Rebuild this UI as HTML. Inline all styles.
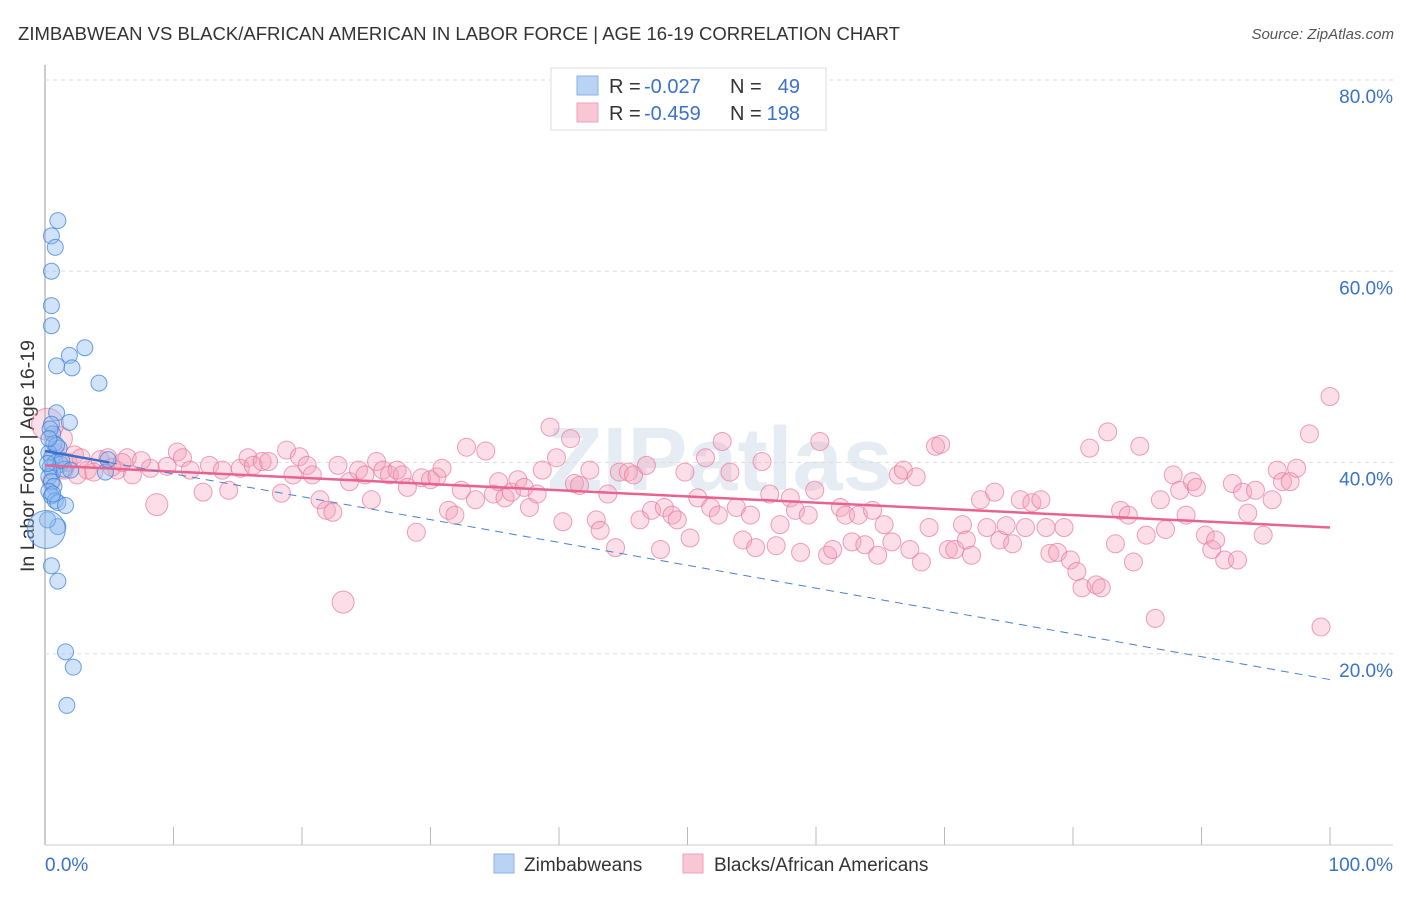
<!DOCTYPE html>
<html><head><meta charset="utf-8"><style>
body{margin:0;background:#fff;font-family:"Liberation Sans",sans-serif}
svg text{font-family:"Liberation Sans",sans-serif}
</style></head><body>
<svg id="c" width="1406" height="892">
<text x="18" y="40" font-size="18" fill="#333" textLength="882" lengthAdjust="spacingAndGlyphs">ZIMBABWEAN VS BLACK/AFRICAN AMERICAN IN LABOR FORCE | AGE 16-19 CORRELATION CHART</text>
<text x="1394" y="39" font-size="15" fill="#555" text-anchor="end" font-style="italic">Source: ZipAtlas.com</text>
<text x="720" y="490" font-size="90" fill="#e6ecf3" text-anchor="middle" font-weight="bold">ZIPatlas</text>
<text transform="translate(34,456) rotate(-90)" font-size="19" fill="#333" text-anchor="middle" textLength="232" lengthAdjust="spacingAndGlyphs">In Labor Force | Age 16-19</text>
<g id="grid"></g><g id="pts"></g><g id="lines"></g>
<g>
<rect x="551" y="68" width="275" height="62" fill="#fff" stroke="#ddd"/>
<rect x="577" y="76" width="21" height="19" fill="#b9d3f5" stroke="#8ab2e8"/>
<rect x="577" y="103" width="21" height="19" fill="#f8c6d4" stroke="#eda2b8"/>
<text x="609" y="93" font-size="20" fill="#333">R =</text>
<text x="644" y="93" font-size="20" fill="#3a72c8">-0.027</text>
<text x="730" y="93" font-size="20" fill="#333">N =</text>
<text x="800" y="93" font-size="20" fill="#3a72c8" text-anchor="end">49</text>
<text x="609" y="120" font-size="20" fill="#333">R =</text>
<text x="644" y="120" font-size="20" fill="#3a72c8">-0.459</text>
<text x="730" y="120" font-size="20" fill="#333">N =</text>
<text x="800" y="120" font-size="20" fill="#3a72c8" text-anchor="end">198</text>
</g>
<g>
<rect x="494" y="854" width="20" height="19" fill="#b9d3f5" stroke="#8ab2e8"/>
<text x="524" y="871" font-size="19" fill="#333">Zimbabweans</text>
<rect x="683" y="854" width="20" height="19" fill="#f8c6d4" stroke="#eda2b8"/>
<text x="714" y="871" font-size="19" fill="#333">Blacks/African Americans</text>
</g>
</svg>
<script>
const yTicks=[20,40,60,80];
const xTickLabels=["0.0%","100.0%"];
const blueX=[1,0.5,0.8,0.5,0.5,0.5,1.9,0.9,2.1,3.1,4.2,1.9,0.9,0.5,0.6,0.7,1.1,0.3,0.5,0.8,1.2,0.4,0.6,1.5,0.3,0.5,0.7,0.3,0.5,0.8,1,1.6,1,0.5,1,1.6,2.2,1.7,4.7,4.9,0.2,1.3,0.4,0.9,0.2,0.6,2,0.3,0.1];
const blueY=[65.3,63.7,62.5,60,56.4,54.3,51.2,50.1,49.9,52,48.3,44.2,45.2,44,43,42,41.5,41,40.5,40,39.8,39.5,39,39.3,38.5,38,37.5,37,36.5,36,35.8,35.5,33.3,29.2,27.6,20.2,18.6,14.6,39,40.3,34,40.2,43.5,41.8,39.9,36.7,39.2,42.5,33];
const pinkX=[1.2,2.3,3.3,4.3,4.9,5.6,6.4,6.8,8.2,8.7,10.3,10.7,11.3,12.3,12.8,14.3,13.8,15.2,15.8,16.2,16.9,17.4,18.8,18.4,19.3,19.8,20.4,20.8,21.4,21.9,22.4,23.2,22.8,23.7,24.4,24.9,25.4,25.8,26.3,26.8,27.4,27.8,28.2,28.9,29.3,30,30.5,30.9,31.4,31.9,32.4,32.8,33.5,34.3,34.9,35.3,35.8,36.3,36.8,37.3,37.7,38.3,38.7,39.3,39.8,40.3,40.9,41.2,41.6,42.4,42.9,43.2,43.8,44.4,44.7,45.4,45.8,46.3,46.8,47.2,47.9,48.2,48.8,49.2,49.8,50.2,50.8,51.4,51.8,52.4,52.7,53.3,53.8,54.3,54.9,55.3,55.8,56.4,56.9,57.2,58,58.4,58.8,59.4,59.9,60.3,60.9,61.3,61.9,62.3,62.8,63.3,63.8,64.4,64.8,65.3,65.9,66.4,66.8,67.3,67.8,68.2,68.8,69.3,69.7,70.3,70.8,71.4,71.7,72.1,72.8,73.3,73.9,74.3,74.8,75.3,75.9,76.3,76.8,77.5,77.9,78.2,78.8,79.3,79.8,80.3,80.7,81.3,81.8,82.2,82.7,83.3,83.7,84.3,84.7,85.2,85.7,86.4,86.8,87.2,87.8,88.3,88.8,89.3,89.6,90.3,90.8,91.1,91.8,92.4,92.8,93.2,93.6,94.2,94.8,95.5,95.9,96.3,96.9,97.4,98.4,99.3,100,0.2,0.8,1.8,2.8,3.8,5.2,6,7.5,9.5,0.5,1.5,2.5];
const pinkY=[42.5,40.8,39.2,40.3,40.5,39.2,40.5,38.7,39.4,35.6,41.1,40.5,39.2,36.9,39.7,37.1,39.2,39.4,40.5,39.7,40.1,40.1,41.3,36.8,38.7,40.6,39.7,38.7,36.1,35,34.8,25.4,39.7,38,39.2,38.7,36.1,40.1,39.2,38.7,39.2,38.7,37.4,32.7,38.4,38.2,38.5,39.4,35,34.5,37.1,41.6,36.1,41.2,36.7,38,36.3,36.9,38.2,37.4,35.3,36.7,39.2,43.7,40.5,33.8,42.5,37.8,37.6,39.2,34,32.9,36.7,31.1,39,39,38.7,34,39.7,35,30.9,35.3,34.5,34,39,32.1,36.3,40.5,35.3,34.5,42.2,39,35.3,31.9,34.5,31.1,40.1,36.7,31.3,33.5,36.3,35,30.6,34.5,37.1,42.2,30.3,30.9,35.3,34.5,31.7,34.5,31.4,35,30.3,33.5,31.7,38.7,39.2,30.9,38.5,29.6,33.2,41.7,41.9,30.9,30.9,33.5,31.9,30.3,36.1,33.2,36.9,31.9,33.4,31.5,36.1,33.2,35.8,36.1,33.2,30.5,30.6,33.2,29.8,28.6,26.9,41.5,27.2,26.9,43.2,31.5,35,34.5,29.6,41.7,32.4,23.7,36.1,33,38.7,37.1,34.5,38,37.4,32.4,30.9,31.9,29.8,37.8,29.8,36.9,34.7,37.1,32.4,36.1,39.2,38,38,39.4,43,22.8,46.9,44,41,40,40.5,39,39.5,40,40.2,39.6,38,39.2,38.7];
const L=45,R=1330,B=845,T=80;
const pinkBig={0:12,9:11,31:11};
pinkBig[pinkX.length-12]=16;
const blueBig={48:19};
const xs=v=>L+(R-L)*v/100, ys=v=>B-(B-T)*v/80;
const NS="http://www.w3.org/2000/svg";
function mk(t,a,p){const e=document.createElementNS(NS,t);for(const k in a)e.setAttribute(k,a[k]);p.appendChild(e);return e;}
const g=document.getElementById('grid');
mk('line',{x1:L,y1:65,x2:L,y2:B,stroke:'#aaa','stroke-width':1.2},g);
mk('line',{x1:L,y1:B,x2:1393,y2:B,stroke:'#ccc'},g);
for(let i=1;i<=10;i++){const t=mk('line',{x1:xs(i*10),y1:B,x2:xs(i*10),y2:B-18,stroke:'#bbb'},g);

}
yTicks.forEach(v=>{const l=mk('line',{x1:L,y1:ys(v),x2:1393,y2:ys(v),stroke:'#ddd','stroke-dasharray':'4,4'},g);


const t=mk('text',{x:1393,y:ys(v)+23,'font-size':19,fill:'#3a72c8','text-anchor':'end'},g);t.textContent=v.toFixed(1)+'%';

});
xTickLabels.forEach((s,i)=>{const t=mk('text',{x:i?1393:45,y:871,'font-size':19,fill:'#3a72c8','text-anchor':i?'end':'start'},g);t.textContent=s;

});
const p=document.getElementById('pts');
pinkX.forEach((x,i)=>{const c=mk('circle',{cx:xs(x),cy:ys(pinkY[i]),r:pinkBig[i]||9,fill:'rgba(244,160,185,0.35)',stroke:'rgba(232,120,155,0.7)','stroke-width':1},p);

});
blueX.forEach((x,i)=>{const c=mk('circle',{cx:xs(x),cy:ys(blueY[i]),r:blueBig[i]||8,fill:'rgba(140,185,240,0.4)',stroke:'rgba(60,130,220,0.75)','stroke-width':1},p);

});
const ln=document.getElementById('lines');
const pinkTrend=[39.7,33.2], blueTrend=[41.2,17.3];
let e=mk('line',{x1:xs(0),y1:ys(pinkTrend[0]),x2:xs(100),y2:ys(pinkTrend[1]),stroke:'#e8638f','stroke-width':2.5},ln);


const bAt=x=>blueTrend[0]+(blueTrend[1]-blueTrend[0])*x/100;
e=mk('line',{x1:xs(0),y1:ys(bAt(0)),x2:xs(5),y2:ys(bAt(5)),stroke:'#3a6fcc','stroke-width':2.5},ln);


e=mk('line',{x1:xs(5),y1:ys(bAt(5)),x2:xs(100),y2:ys(bAt(100)),stroke:'#4a80d0','stroke-width':1,'stroke-dasharray':'8,6'},ln);


</script>
</body></html>
